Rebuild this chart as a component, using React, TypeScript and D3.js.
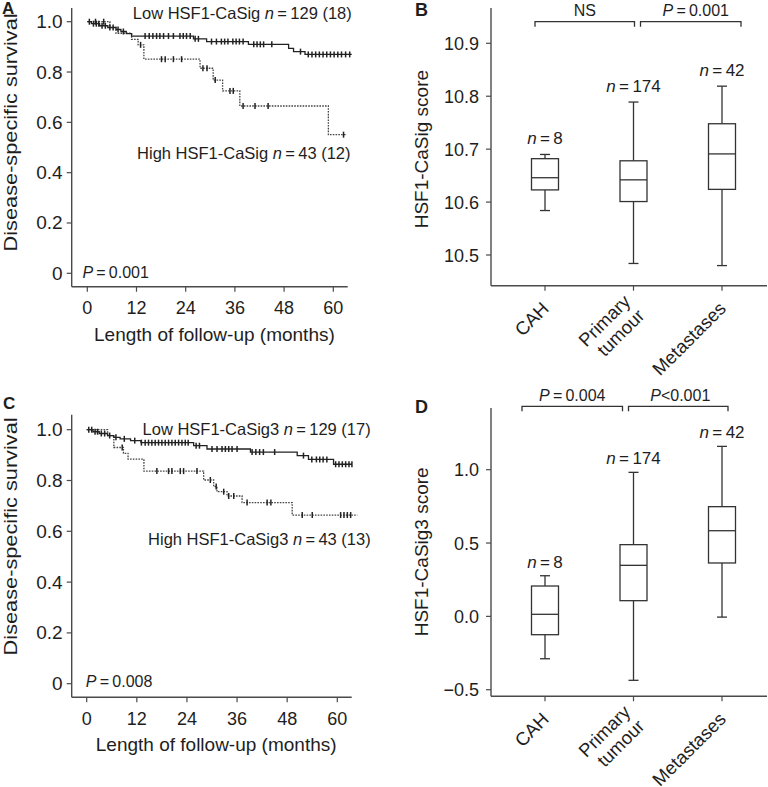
import React from 'react';
import * as d3 from 'd3';

// ---------- shared ticks ----------
const monthTicks = [0, 12, 24, 36, 48, 60];
const survTicks = [0, 0.2, 0.4, 0.6, 0.8, 1.0];

// ---------- Panel A: Kaplan-Meier, HSF1-CaSig ----------
const aLowTimes = [0, 1, 3, 5, 7, 8.2, 9.5, 10.8, 25.9, 29.1, 39.3, 49.1, 50.3, 53.1];
const aLowSurv = [1.0, 0.992, 0.984, 0.977, 0.969, 0.961, 0.953, 0.943, 0.932, 0.921, 0.91, 0.894, 0.881, 0.87];
const aLowEnd = 64.5;
const aLowCens = [0.5, 1.5, 2.2, 2.8, 3.6, 4.4, 5.5, 6.3, 7.5, 8.8, 14.1, 15.1, 16, 16.9, 17.7, 18.6, 19.8, 21, 22.6, 23.4, 24.2, 25.1, 26.3, 27.1, 30.3, 31.5, 32.7, 33.5, 34.3, 35.5, 36.3, 37.1, 38, 40.6, 41.4, 42.2, 43, 45, 52, 53.9, 54.8, 55.7, 56.6, 57.5, 58.4, 59.3, 60.2, 61.1, 62, 63, 64];
const aHighTimes = [0, 5.5, 7, 10.8, 12.4, 13.8, 27.5, 30.7, 33, 37.2, 58.8];
const aHighSurv = [1.0, 0.977, 0.954, 0.93, 0.908, 0.851, 0.815, 0.768, 0.725, 0.665, 0.551];
const aHighEnd = 63.3;
const aHighCens = [2, 4, 13, 18.1, 19, 21, 23, 28.2, 29.2, 31.2, 34.8, 35.6, 38, 40.9, 44.1, 62.5];

// ---------- Panel C: Kaplan-Meier, HSF1-CaSig3 ----------
const cLowTimes = [0, 1.5, 3, 5, 6.5, 8, 10.5, 13, 25.6, 28.8, 39.2, 50.4, 53.1, 59.1];
const cLowSurv = [1.0, 0.992, 0.985, 0.977, 0.97, 0.964, 0.957, 0.949, 0.937, 0.924, 0.912, 0.898, 0.883, 0.864];
const cLowEnd = 63.5;
const cLowCens = [0.5, 1.2, 2, 2.6, 3.5, 4.3, 5.5, 7, 9, 11.5, 13.1, 14, 14.8, 15.6, 16.4, 17.2, 18, 18.8, 19.6, 20.4, 21.2, 22, 22.8, 23.6, 24.3, 26.2, 27, 30, 31.2, 32.4, 33.2, 34, 34.8, 36, 39.6, 40.5, 41.4, 42.3, 45, 51.9, 53.9, 55, 55.8, 56.6, 57.5, 59.6, 60.4, 61.2, 62, 62.8, 63.5];
const cHighTimes = [0, 5, 6.5, 8.8, 9.9, 13.7, 28, 30.4, 31.2, 33.6, 37.2, 49.2];
const cHighSurv = [1.0, 0.977, 0.93, 0.907, 0.884, 0.837, 0.802, 0.776, 0.756, 0.739, 0.713, 0.664];
const cHighEnd = 64.8;
const cHighCens = [8.5, 16.8, 19.6, 20.4, 22.4, 23.2, 26.4, 29.6, 31, 32.8, 34, 35.2, 38.4, 43.2, 44.1, 51.6, 54, 60.8, 61.6, 62.4, 63.2];

// ---------- Box plots ----------
const categories = ['CAH', 'Primary tumour', 'Metastases'];
const categoryLines = [['CAH'], ['Primary', 'tumour'], ['Metastases']];
const groupN = [8, 174, 42];

const bMin = [10.584, 10.484, 10.48];
const bQ1 = [10.623, 10.601, 10.624];
const bMed = [10.646, 10.642, 10.691];
const bQ3 = [10.682, 10.678, 10.748];
const bMax = [10.69, 10.789, 10.819];
const bTicks = [10.5, 10.6, 10.7, 10.8, 10.9];

const dMin = [-0.289, -0.436, -0.005];
const dQ1 = [-0.125, 0.107, 0.364];
const dMed = [0.014, 0.348, 0.584];
const dQ3 = [0.207, 0.489, 0.748];
const dMax = [0.277, 0.982, 1.159];
const dTicks = [-0.5, 0, 0.5, 1.0];

const FONT = 'Arial, "Liberation Sans", Helvetica, sans-serif';
const AX = '#4a4a4a';
const TXT = '#1e1e1e';

function stepPath(times: number[], surv: number[], end: number, x: any, y: any) {
  const pts: [number, number][] = times.map((t, i) => [t, surv[i]] as [number, number]);
  pts.push([end, surv[surv.length - 1]]);
  return d3.line<[number, number]>().x(d => x(d[0])).y(d => y(d[1])).curve(d3.curveStepAfter)(pts) || '';
}
function survAt(times: number[], surv: number[], t: number) {
  let v = surv[0];
  for (let i = 0; i < times.length; i++) if (times[i] <= t) v = surv[i];
  return v;
}

function KMPanel(props: any) {
  const { x, y, left, right, top, bottom, low, high, letter, letterPos, lowLabel, highLabel, lowLabelPos, highLabelPos, pText, pPos, titleY } = props;
  return (
    <g fontFamily={FONT} fill={TXT}>
      <text x={letterPos[0]} y={letterPos[1]} fontSize={17} fontWeight="bold">{letter}</text>
      <line x1={left} x2={left} y1={top} y2={bottom} stroke={AX} strokeWidth={1.4} />
      <line x1={left} x2={right} y1={bottom} y2={bottom} stroke={AX} strokeWidth={1.4} />
      {survTicks.map(t => (
        <g key={'y' + t}>
          <line x1={left - 5} x2={left} y1={y(t)} y2={y(t)} stroke={AX} strokeWidth={1.2} />
          <text x={left - 9} y={y(t) + 6.5} fontSize={19} textAnchor="end">{t === 0 ? '0' : t.toFixed(1)}</text>
        </g>
      ))}
      {monthTicks.map(t => (
        <g key={'x' + t}>
          <line x1={x(t)} x2={x(t)} y1={bottom} y2={bottom + 5} stroke={AX} strokeWidth={1.2} />
          <text x={x(t)} y={bottom + 27.5} fontSize={18} textAnchor="middle">{t}</text>
        </g>
      ))}
      <text x={x(31)} y={bottom + 54} fontSize={19} textAnchor="middle">Length of follow-up (months)</text>
      <text transform={`translate(17,${y(titleY)}) rotate(-90)`} fontSize={18.5} textAnchor="middle" textLength={238} lengthAdjust="spacingAndGlyphs">Disease-specific survival</text>
      <path d={stepPath(high.times, high.surv, high.end, x, y)} fill="none" stroke="#444" strokeWidth={1.3} strokeDasharray="1.6 1.2" />
      {high.cens.map((c: number, i: number) => (
        <line key={'hc' + i} x1={x(c)} x2={x(c)} y1={y(survAt(high.times, high.surv, c)) - 3} y2={y(survAt(high.times, high.surv, c)) + 3} stroke="#222" strokeWidth={1.5} />
      ))}
      <path d={stepPath(low.times, low.surv, low.end, x, y)} fill="none" stroke="#222" strokeWidth={1.3} />
      {low.cens.map((c: number, i: number) => (
        <line key={'lc' + i} x1={x(c)} x2={x(c)} y1={y(survAt(low.times, low.surv, c)) - 3} y2={y(survAt(low.times, low.surv, c)) + 3} stroke="#222" strokeWidth={1.5} />
      ))}
      <text x={x(lowLabelPos[0])} y={y(lowLabelPos[1])} fontSize={16.5} textAnchor="end">
        {lowLabel[0]} <tspan fontStyle="italic">n</tspan>{'\u2009=\u2009'}{lowLabel[1]}
      </text>
      <text x={x(highLabelPos[0])} y={y(highLabelPos[1])} fontSize={16.5} textAnchor="end">
        {highLabel[0]} <tspan fontStyle="italic">n</tspan>{'\u2009=\u2009'}{highLabel[1]}
      </text>
      <text x={x(pPos[0])} y={y(pPos[1])} fontSize={16}>
        <tspan fontStyle="italic">P</tspan>{'\u2009=\u2009'}{pText}
      </text>
    </g>
  );
}

function BoxPanel(props: any) {
  const { y, cx, left, right, top, bottom, mins, q1, med, q3, maxs, ticks, fmt, letter, letterPos, title, titleY, brackets, bracketY, labelGap } = props;
  const half = 13.5;
  const cap = 5;
  return (
    <g fontFamily={FONT} fill={TXT}>
      <text x={letterPos[0]} y={letterPos[1]} fontSize={18} fontWeight="bold">{letter}</text>
      <line x1={left} x2={left} y1={top} y2={bottom} stroke={AX} strokeWidth={1.4} />
      <line x1={left} x2={right} y1={bottom} y2={bottom} stroke={AX} strokeWidth={1.4} />
      {ticks.map((t: number) => (
        <g key={'t' + t}>
          <line x1={left - 5} x2={left} y1={y(t)} y2={y(t)} stroke={AX} strokeWidth={1.2} />
          <text x={left - 12} y={y(t) + 6.5} fontSize={18} textAnchor="end">{fmt(t)}</text>
        </g>
      ))}
      <text transform={`translate(${left - 63},${y(titleY)}) rotate(-90)`} fontSize={19} textAnchor="middle">{title}</text>
      {categories.map((c, i) => {
        const xc = cx(c) as number;
        const lines = categoryLines[i];
        return (
          <g key={c}>
            <line x1={xc} x2={xc} y1={bottom} y2={bottom + 5} stroke={AX} strokeWidth={1.2} />
            {lines.map((ln, j) => {
              const off = (j - (lines.length - 1) / 2) * 20;
              const ax = xc + 5 + off * Math.SQRT1_2;
              const ay = bottom + 24 + off * Math.SQRT1_2;
              return (
                <text key={j} transform={`translate(${ax},${ay}) rotate(-45)`} fontSize={18.5} textAnchor="end">{ln}</text>
              );
            })}
            <line x1={xc} x2={xc} y1={y(maxs[i])} y2={y(q3[i])} stroke="#333" strokeWidth={1.3} />
            <line x1={xc} x2={xc} y1={y(q1[i])} y2={y(mins[i])} stroke="#333" strokeWidth={1.3} />
            <line x1={xc - cap} x2={xc + cap} y1={y(maxs[i])} y2={y(maxs[i])} stroke="#333" strokeWidth={1.3} />
            <line x1={xc - cap} x2={xc + cap} y1={y(mins[i])} y2={y(mins[i])} stroke="#333" strokeWidth={1.3} />
            <rect x={xc - half} y={y(q3[i])} width={half * 2} height={y(q1[i]) - y(q3[i])} fill="white" stroke="#333" strokeWidth={1.3} />
            <line x1={xc - half} x2={xc + half} y1={y(med[i])} y2={y(med[i])} stroke="#333" strokeWidth={1.3} />
            <text x={xc} y={y(maxs[i]) - labelGap} fontSize={17} textAnchor="middle">
              <tspan fontStyle="italic">n</tspan>{'\u2009=\u2009'}{groupN[i]}
            </text>
          </g>
        );
      })}
      {brackets.map((b: any, k: number) => {
        const x1 = (cx(categories[b.from]) as number) + b.dl;
        const x2 = (cx(categories[b.to]) as number) + b.dr;
        return (
          <g key={'b' + k}>
            <path d={`M${x1},${bracketY + 5}V${bracketY}H${x2}V${bracketY + 5}`} fill="none" stroke="#333" strokeWidth={1.3} />
            <text x={(x1 + x2) / 2 + b.tx} y={bracketY - 5.5} fontSize={16} textAnchor="middle">
              {b.italic ? <tspan fontStyle="italic">P</tspan> : null}{b.text}
            </text>
          </g>
        );
      })}
    </g>
  );
}

export default function App() {
  const xA = d3.scaleLinear().domain([0, 60]).range([87.3, 333.3]);
  const yA = d3.scaleLinear().domain([0, 1]).range([273.3, 21.7]);
  const xC = d3.scaleLinear().domain([0, 60]).range([86.7, 337.3]);
  const yC = d3.scaleLinear().domain([0, 1]).range([683.7, 429.7]);
  const catX = d3.scalePoint<string>().domain(categories).range([545, 722]);
  const yB = d3.scaleLinear().domain([10.5, 10.9]).range([255, 43.3]);
  const yD = d3.scaleLinear().domain([-0.5, 1.0]).range([689.7, 469.7]);

  return (
    <svg width={768} height={787} style={{ position: 'absolute', left: 0, top: 0, background: 'white' }}>
      <rect width={768} height={787} fill="white" />
      <KMPanel
        x={xA} y={yA} left={71.7} right={347.7} top={8} bottom={286.7}
        low={{ times: aLowTimes, surv: aLowSurv, end: aLowEnd, cens: aLowCens }}
        high={{ times: aHighTimes, surv: aHighSurv, end: aHighEnd, cens: aHighCens }}
        letter="A" letterPos={[2, 14]}
        lowLabel={['Low HSF1-CaSig', '129 (18)']} highLabel={['High HSF1-CaSig', '43 (12)']}
        lowLabelPos={[64.5, 1.011]} highLabelPos={[64.2, 0.453]}
        pText="0.001" pPos={[-1.2, -0.02]} titleY={0.56}
      />
      <KMPanel
        x={xC} y={yC} left={71.7} right={351.7} top={414.7} bottom={697.3}
        low={{ times: cLowTimes, surv: cLowSurv, end: cLowEnd, cens: cLowCens }}
        high={{ times: cHighTimes, surv: cHighSurv, end: cHighEnd, cens: cHighCens }}
        letter="C" letterPos={[3, 409]}
        lowLabel={['Low HSF1-CaSig3', '129 (17)']} highLabel={['High HSF1-CaSig3', '43 (13)']}
        lowLabelPos={[68, 0.98]} highLabelPos={[68, 0.545]}
        pText="0.008" pPos={[-0.2, -0.012]} titleY={0.58}
      />
      <BoxPanel
        y={yB} cx={catX} left={491} right={767} top={8} bottom={285.7}
        mins={bMin} q1={bQ1} med={bMed} q3={bQ3} maxs={bMax}
        ticks={bTicks} fmt={(t: number) => t.toFixed(1)}
        letter="B" letterPos={[415, 16]} title="HSF1-CaSig score" titleY={10.7}
        bracketY={21.7} labelGap={10}
        brackets={[
          { from: 0, to: 1, dl: -10, dr: 1, tx: 0, text: 'NS', italic: false },
          { from: 1, to: 2, dl: 7, dr: 19, tx: 5, text: '\u2009=\u20090.001', italic: true },
        ]}
      />
      <BoxPanel
        y={yD} cx={catX} left={491} right={767} top={408} bottom={696.3}
        mins={dMin} q1={dQ1} med={dMed} q3={dQ3} maxs={dMax}
        ticks={dTicks} fmt={(t: number) => (t < 0 ? '\u2212' + Math.abs(t).toFixed(1) : t.toFixed(1))}
        letter="D" letterPos={[415, 413]} title="HSF1-CaSig3 score" titleY={0.44}
        bracketY={406.3} labelGap={8}
        brackets={[
          { from: 0, to: 1, dl: -23, dr: -11, tx: 0, text: '\u2009=\u20090.004', italic: true },
          { from: 1, to: 2, dl: -5, dr: 6, tx: 2, text: '<0.001', italic: true },
        ]}
      />
    </svg>
  );
}
